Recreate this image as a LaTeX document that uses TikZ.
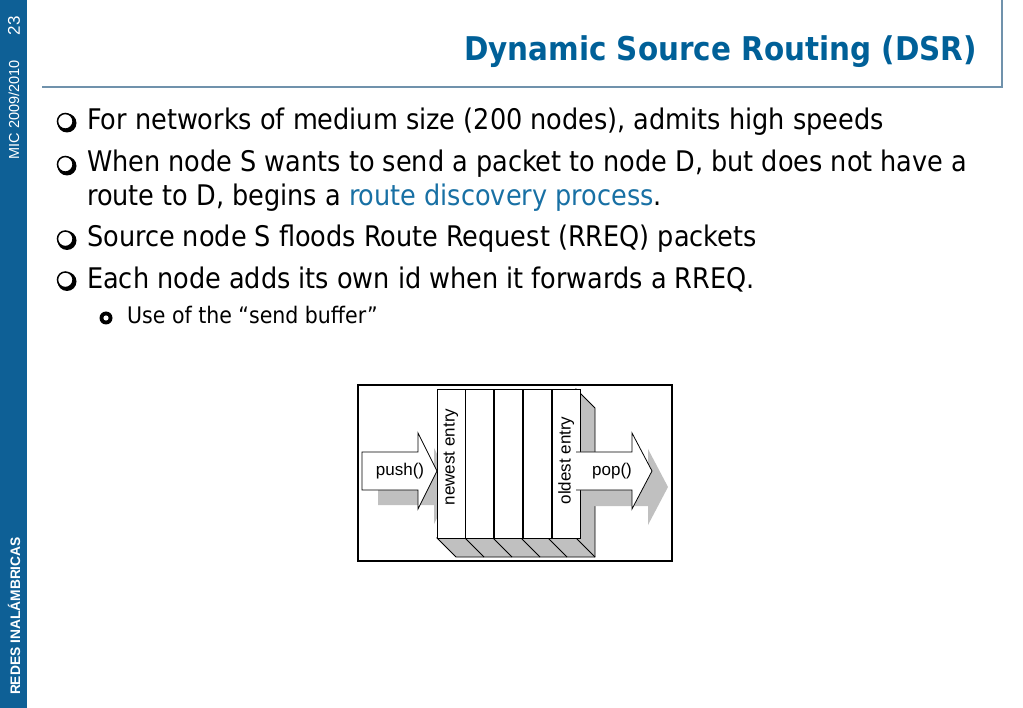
\documentclass[tikz,border=0pt]{standalone}
\usepackage{fontspec}
\setmainfont{DejaVu Sans Condensed}
\newfontfamily\arialfont{Liberation Sans}
\usepackage{xcolor}
\usepackage{tikz}
\usetikzlibrary{calc}
\usetikzlibrary{positioning}
\definecolor{sidebar}{RGB}{14,96,150}
\definecolor{titleblue}{RGB}{0,96,152}
\definecolor{linkblue}{RGB}{24,112,164}
\definecolor{rulecol}{RGB}{112,146,172}
\definecolor{shadegray}{RGB}{192,192,192}
\tikzstyle{txt} = [draw = none, inner sep = 0, anchor = base west]
\tikzstyle{side} = [draw = none, inner sep = 0, rotate = 90, text = white]
\tikzstyle{cell} = [draw = black, fill = white, line width = .8, minimum width = 28, minimum height = 149, inner sep = 0]
\tikzstyle{lab} = [draw = none, inner sep = 0, font = \arialfont\fontsize{17}{17}\selectfont]

\begin{document}
\begin{tikzpicture}[x = 1pt, y = -1pt, font = \fontsize{28.4}{32}\selectfont]
\useasboundingbox (0,0) rectangle (1023,708);
% side bar and title
\fill [sidebar] (0,0) rectangle (27,708);
\node [side, font = \arialfont\fontsize{17}{17}\selectfont] (pg) at (14,26) {23};
\node [side, font = \arialfont\fontsize{14.5}{14}\selectfont] (mic) at (14,110) {MIC 2009/2010};
\node [side, font = \arialfont\bfseries\fontsize{13.8}{14}\selectfont] (redes) at (14,616) {REDES INALÁMBRICAS};
\draw [rulecol, line width = 1.2] (42,87) -- (1002,87) -- (1002,0);
\node [draw = none, inner sep = 0, anchor = base east, text = titleblue, font = \bfseries\fontsize{32.7}{33}\selectfont] (title) at (977,61) {Dynamic Source Routing (DSR)};

% bullets
\fill (67,123) circle (9.5);
\filldraw [fill = white, line width = 1.5] (65.3,121.3) circle (7.8);
\fill (67,166) circle (9.5);
\filldraw [fill = white, line width = 1.5] (65.3,164.3) circle (7.8);
\fill (67,240.5) circle (9.5);
\filldraw [fill = white, line width = 1.5] (65.3,238.8) circle (7.8);
\fill (67,281.5) circle (9.5);
\filldraw [fill = white, line width = 1.5] (65.3,279.8) circle (7.8);
\fill (106,318) circle (6.5);
\fill [white] (106,318) circle (2.6);

\node [txt] (l1) at (87,130) {For networks of medium size (200 nodes), admits high speeds};
\node [txt] (l2) at (87,172) {When node S wants to send a packet to node D, but does not have a};
\node [txt] (l2b) at (87,206) {route to D, begins a \textcolor{linkblue}{route discovery process}.};
\node [txt] (l3) at (87,247) {Source node S floods Route Request (RREQ) packets};
\node [txt] (l4) at (87,289) {Each node adds its own id when it forwards a RREQ.};
\node [txt, font = \fontsize{22.8}{26}\selectfont] (l5) at (127,324) {Use of the “send buffer”};

% send buffer
\draw [line width = 2.5] (358,385) rectangle (672,561);
\fill [shadegray, shift = {(16,15)}] (362,452) -- (418,452) -- (418,433) -- (437,471) -- (418,509) -- (418,490) -- (362,490) -- cycle;
\filldraw [fill = shadegray, line width = .8] (576,389) -- (595,408) -- (595,557) -- (456,557) -- (437,538) -- (576,538) -- cycle;
\draw [line width = .8] (465,538) -- (484,557);
\draw [line width = .8] (493,538) -- (512,557);
\draw [line width = .8] (521,538) -- (540,557);
\draw [line width = .8] (548,538) -- (567,557);
\draw [line width = .8] (576,538) -- (595,557);
\fill [shadegray, shift = {(16,16)}] (576,452) -- (632,452) -- (632,433) -- (652,471) -- (632,509) -- (632,490) -- (576,490) -- cycle;
\node [cell] (c1) at (451,463.5) {};
\node [cell, right = 0pt of c1] (c2) {};
\node [cell, right = 0pt of c2] (c3) {};
\node [cell, right = 0pt of c3] (c4) {};
\node [cell, right = 0pt of c4] (c5) {};
\filldraw [fill = white, line width = .8] (362,452) -- (418,452) -- (418,433) -- (437,471) -- (418,509) -- (418,490) -- (362,490) -- cycle;
\fill [white] (576,452) -- (632,452) -- (632,433) -- (652,471) -- (632,509) -- (632,490) -- (576,490) -- cycle;
\draw [line width = .8] (576,452) -- (632,452) -- (632,433) -- (652,471) -- (632,509) -- (632,490) -- (576,490);
\node [lab] (push) at (400,471) {push()};
\node [lab] (pop) at (612,471) {pop()};
\node [lab, rotate = 90] (newest) at ($(c1.center)+(0,-6.5)$) {newest entry};
\node [lab, rotate = 90] (oldest) at ($(c5.center)+(0,-3)$) {oldest entry};
\end{tikzpicture}
\end{document}
